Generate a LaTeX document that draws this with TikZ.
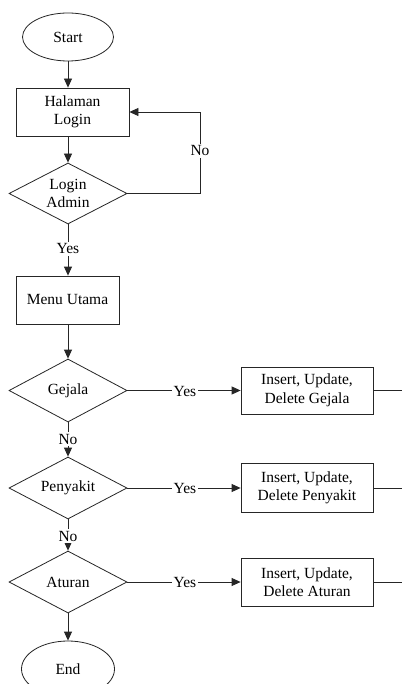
\documentclass[tikz,border=0pt]{standalone}
\usepackage{fontspec}
\setmainfont{Liberation Serif}
\usetikzlibrary{shapes.geometric,arrows.meta}
\begin{document}
\begin{tikzpicture}[x=1pt,y=-1pt,
  every node/.style={font=\fontsize{15.5}{18.5}\selectfont, text=black},
  line/.style={draw=black!85, line width=0.8pt},
  arr/.style={line, -{Triangle[length=9pt,width=8pt]}},
  term/.style={ellipse, line, inner sep=0pt, minimum width=91pt, minimum height=48pt},
  proc/.style={rectangle, line, inner sep=0pt, align=center},
  dec/.style={diamond, line, inner sep=0pt, aspect=2, align=center, minimum width=118pt},
  lbl/.style={fill=white, inner sep=1.5pt}
]
\useasboundingbox (0,0) rectangle (401,684);
\fill[white] (0,0) rectangle (401,684);

\node[term] (start) at (68,37) {Start};
\node[proc, minimum width=113pt, minimum height=48pt] (login) at (72.5,112) {Halaman\\Login};
\node[dec, minimum height=61pt] (admin) at (68,193.5) {Login\\Admin};
\node[proc, minimum width=103pt, minimum height=48pt] (menu) at (67.5,300) {Menu Utama};
\node[dec, minimum height=63pt] (gejala) at (68,390.5) {Gejala};
\node[dec, minimum height=62pt] (penyakit) at (68,488) {Penyakit};
\node[dec, minimum height=62pt] (aturan) at (68,582) {Aturan};
\node[term, minimum width=93pt, minimum height=56pt] (end) at (68,669) {End};

\node[proc, minimum width=132pt, minimum height=47pt] (bg) at (307,390.5) {Insert, Update,\\Delete Gejala};
\node[proc, minimum width=132pt, minimum height=49pt] (bp) at (307,488) {Insert, Update,\\Delete Penyakit};
\node[proc, minimum width=132pt, minimum height=48pt] (ba) at (307,582) {Insert, Update,\\Delete Aturan};

\coordinate (loopc) at (200,193.5);
\coordinate (eg) at (402,390.5);
\coordinate (ep) at (402,488);
\coordinate (ea) at (402,582);

\draw[arr] (start) -- (start |- login.north);
\draw[arr] (login.south -| admin.north) -- (admin.north);
\draw[arr] (admin.east) -- (loopc) |- (login.east);
\node[lbl] (no0) at (200,151) {No};
\draw[arr] (admin.south) -- (admin.south |- menu.north);
\node[lbl] (yes0) at (68,249) {Yes};
\draw[arr] (admin.south |- menu.south) -- (gejala.north);

\draw[arr] (gejala.east) -- (bg.west);
\node[lbl] (yes1) at (185,391) {Yes};
\draw[arr] (penyakit.east) -- (bp.west);
\node[lbl] (yes2) at (185,488) {Yes};
\draw[arr] (aturan.east) -- (ba.west);
\node[lbl] (yes3) at (185,582) {Yes};

\draw[arr] (gejala.south) -- (penyakit.north);
\node[lbl] (no1) at (68,439) {No};
\draw[arr] (penyakit.south) -- (aturan.north);
\node[lbl] (no2) at (68,536) {No};
\draw[arr] (aturan.south) -- (end.north);

\draw[line] (bg.east) -- (eg);
\draw[line] (bp.east) -- (ep);
\draw[line] (ba.east) -- (ea);
\end{tikzpicture}
\end{document}
